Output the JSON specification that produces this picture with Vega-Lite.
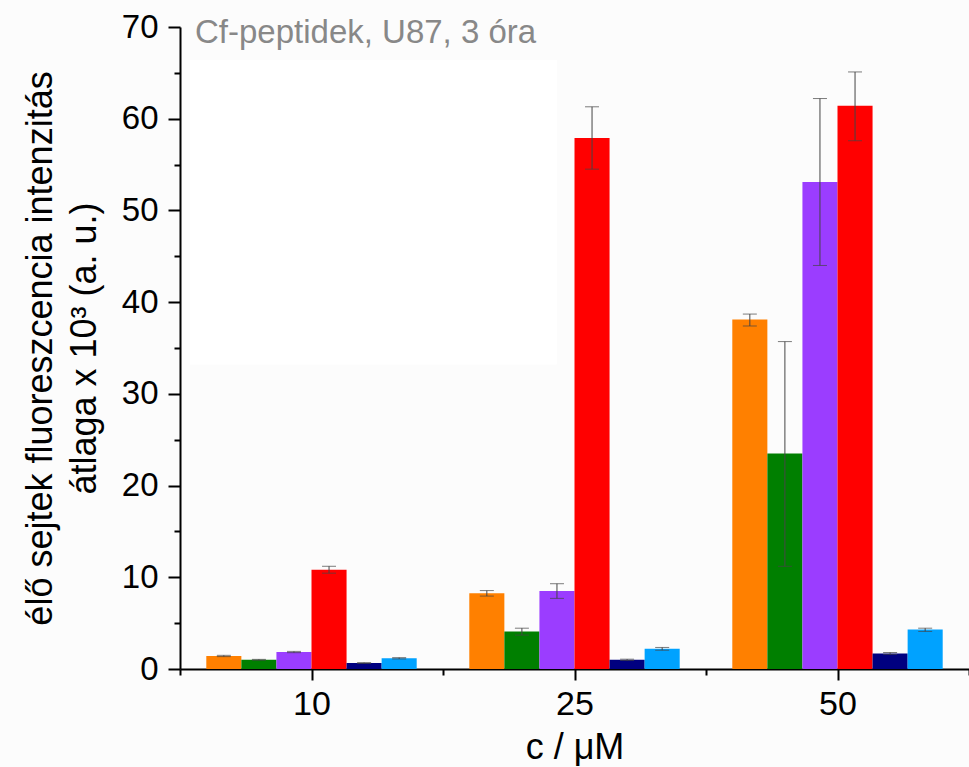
{
  "$schema": "https://vega.github.io/schema/vega-lite/v6.json",
  "width": 789,
  "height": 642,
  "autosize": {"type": "none"},
  "padding": {"left": 180, "top": 27, "right": 0, "bottom": 98},
  "background": "#fcfcfc",
  "config": {
    "view": {"stroke": null},
    "font": "Liberation Sans",
    "axis": {"grid": false, "domainColor": "#000000", "tickColor": "#000000", "labelColor": "#000000", "titleColor": "#000000", "labelFont": "Liberation Sans", "titleFont": "Liberation Sans", "titleFontWeight": "normal"}
  },
  "datasets": {
    "bars": [
      {"conc": "10", "series": "A", "mean": 1.42, "lo": 1.35, "hi": 1.49},
      {"conc": "10", "series": "B", "mean": 1.0, "lo": 0.95, "hi": 1.05},
      {"conc": "10", "series": "C", "mean": 1.85, "lo": 1.78, "hi": 1.92},
      {"conc": "10", "series": "D", "mean": 10.83, "lo": 10.45, "hi": 11.2},
      {"conc": "10", "series": "E", "mean": 0.65, "lo": 0.6, "hi": 0.7},
      {"conc": "10", "series": "F", "mean": 1.17, "lo": 1.1, "hi": 1.24},
      {"conc": "25", "series": "A", "mean": 8.25, "lo": 7.95, "hi": 8.55},
      {"conc": "25", "series": "B", "mean": 4.1, "lo": 3.7, "hi": 4.45},
      {"conc": "25", "series": "C", "mean": 8.5, "lo": 7.7, "hi": 9.3},
      {"conc": "25", "series": "D", "mean": 57.9, "lo": 54.5, "hi": 61.3},
      {"conc": "25", "series": "E", "mean": 1.0, "lo": 0.93, "hi": 1.07},
      {"conc": "25", "series": "F", "mean": 2.2, "lo": 2.05, "hi": 2.35},
      {"conc": "50", "series": "A", "mean": 38.1, "lo": 37.4, "hi": 38.7},
      {"conc": "50", "series": "B", "mean": 23.5, "lo": 11.2, "hi": 35.7},
      {"conc": "50", "series": "C", "mean": 53.1, "lo": 44.0, "hi": 62.2},
      {"conc": "50", "series": "D", "mean": 61.4, "lo": 57.6, "hi": 65.1},
      {"conc": "50", "series": "E", "mean": 1.7, "lo": 1.6, "hi": 1.8},
      {"conc": "50", "series": "F", "mean": 4.3, "lo": 4.1, "hi": 4.45}
    ],
    "box": [{"x1": 0.038, "x2": 1.433, "y1": 33.2, "y2": 66.4}],
    "label": [{"x": 0.057, "y": 68.3, "text": "Cf-peptidek, U87, 3 óra"}]
  },
  "layer": [
    {
      "layer": [
        {
          "data": {"name": "box"},
          "mark": {"type": "rect", "color": "#ffffff"},
          "encoding": {
            "x": {"field": "x1", "type": "quantitative", "scale": {"domain": [0, 3], "nice": false, "zero": false},
              "axis": {"orient": "bottom", "tickCount": 6,
                "labelExpr": "datum.value == 0.5 ? '10' : datum.value == 1.5 ? '25' : datum.value == 2.5 ? '50' : ''",
                "domainWidth": 2, "tickWidth": 2,
                "tickSize": {"condition": {"test": "datum.value % 1 == 0", "value": 6}, "value": 11},
                "labelFontSize": 34, "labelAngle": 0, "labelPadding": 7, "labelFlush": false, "labelOverlap": false,
                "title": "c / μM", "titleFontSize": 36, "titlePadding": 9}},
            "x2": {"field": "x2"},
            "y": {"field": "y1", "type": "quantitative", "scale": {"domain": [0, 70], "nice": false}},
            "y2": {"field": "y2"}
          }
        },
        {
          "data": {"name": "label"},
          "mark": {"type": "text", "align": "left", "baseline": "alphabetic", "fontSize": 33, "color": "#888888", "font": "Liberation Sans"},
          "encoding": {
            "x": {"field": "x", "type": "quantitative"},
            "y": {"field": "y", "type": "quantitative"},
            "text": {"field": "text"}
          }
        }
      ]
    },
    {
      "data": {"name": "bars"},
      "layer": [
        {
          "mark": {"type": "bar"},
          "encoding": {
            "x": {"field": "conc", "type": "nominal", "sort": ["10", "25", "50"], "scale": {"paddingInner": 0.2, "paddingOuter": 0.1}, "axis": null},
            "xOffset": {"field": "series", "type": "nominal", "sort": ["A", "B", "C", "D", "E", "F"], "scale": {"paddingInner": 0, "paddingOuter": 0}},
            "y": {"field": "mean", "type": "quantitative", "scale": {"domain": [0, 70], "nice": false},
              "axis": {"orient": "left", "tickCount": 14,
                "labelExpr": "datum.value % 10 == 0 ? datum.label : ''",
                "domainWidth": 2, "tickWidth": 2,
                "tickSize": {"condition": {"test": "datum.value % 10 != 0", "value": 6}, "value": 12},
                "labelFontSize": 33, "labelPadding": 10, "labelOverlap": false, "labelFlush": false,
                "title": ["élő sejtek fluoreszcencia intenzitás", "átlaga x 10³ (a. u.)"], "titleFontSize": 36, "titlePadding": 18, "titleLineHeight": 44}},
            "color": {"field": "series", "type": "nominal", "scale": {"domain": ["A", "B", "C", "D", "E", "F"], "range": ["#FF8000", "#007F00", "#9B3DFF", "#FF0000", "#000080", "#00A2FF"]}, "legend": null}
          }
        },
        {
          "mark": {"type": "rule", "color": "#454545", "strokeWidth": 1},
          "encoding": {
            "x": {"field": "conc", "type": "nominal", "sort": ["10", "25", "50"], "axis": null},
            "xOffset": {"field": "series", "type": "nominal", "sort": ["A", "B", "C", "D", "E", "F"]},
            "y": {"field": "lo", "type": "quantitative"},
            "y2": {"field": "hi"}
          }
        },
        {
          "mark": {"type": "tick", "orient": "horizontal", "size": 14, "thickness": 1, "color": "#454545"},
          "encoding": {
            "x": {"field": "conc", "type": "nominal", "sort": ["10", "25", "50"], "axis": null},
            "xOffset": {"field": "series", "type": "nominal", "sort": ["A", "B", "C", "D", "E", "F"]},
            "y": {"field": "lo", "type": "quantitative"}
          }
        },
        {
          "mark": {"type": "tick", "orient": "horizontal", "size": 14, "thickness": 1, "color": "#454545"},
          "encoding": {
            "x": {"field": "conc", "type": "nominal", "sort": ["10", "25", "50"], "axis": null},
            "xOffset": {"field": "series", "type": "nominal", "sort": ["A", "B", "C", "D", "E", "F"]},
            "y": {"field": "hi", "type": "quantitative"}
          }
        }
      ]
    }
  ]
}
